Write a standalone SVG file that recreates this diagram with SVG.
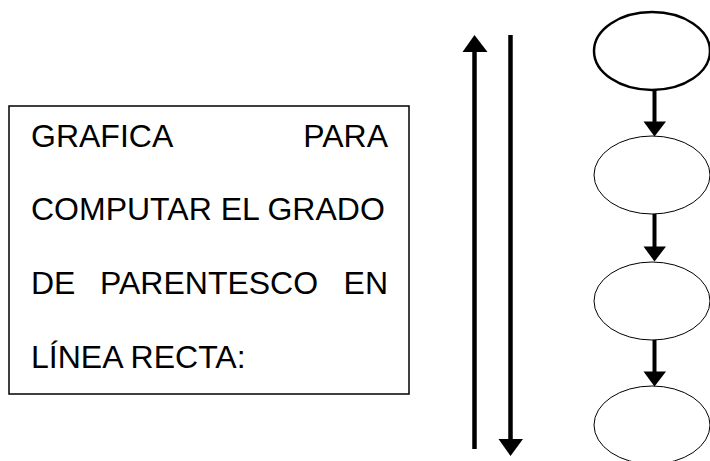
<svg xmlns="http://www.w3.org/2000/svg" width="710" height="461" viewBox="0 0 710 461">
<style>
.t{font-family:"Liberation Sans",Arial,sans-serif;font-size:32px;fill:#000}
.box{fill:#fff;stroke:#000;stroke-width:1.5}
.ell{fill:#fff;stroke:#000;stroke-width:1}
.ell.bold{stroke-width:2.5}
.shaft{stroke:#000;stroke-width:4.5;fill:none}
.sshaft{stroke:#000;stroke-width:4;fill:none}
.head{fill:#000}
</style>
<rect width="710" height="461" fill="#fff"/>
<g id="title">
<rect class="box" x="9" y="106" width="400" height="288"/>
<text class="t" x="31" y="147">GRAFICA</text>
<text class="t" x="388" y="147" text-anchor="end">PARA</text>
<text class="t" x="31" y="220">COMPUTAR EL GRADO</text>
<text class="t" x="31" y="294">DE</text>
<text class="t" x="100" y="294">PARENTESCO</text>
<text class="t" x="388" y="294" text-anchor="end">EN</text>
<text class="t" x="31" y="368">LÍNEA RECTA:</text>
</g>
<g id="node1"><ellipse class="ell bold" cx="652" cy="51" rx="58" ry="39"/></g>
<g id="node2"><ellipse class="ell" cx="652" cy="175" rx="58" ry="39"/></g>
<g id="node3"><ellipse class="ell" cx="652" cy="301" rx="58" ry="39"/></g>
<g id="node4"><ellipse class="ell" cx="652" cy="425" rx="58" ry="39"/></g>
<g id="connectors">
<line class="shaft" x1="474.5" y1="449" x2="474.5" y2="50"/>
<polygon class="head" points="462.5,52 474.5,35 487.5,52"/>
<line class="shaft" x1="510.5" y1="35" x2="510.5" y2="441"/>
<polygon class="head" points="498.5,439 510.5,456 523,439"/>
<line class="sshaft" x1="654.5" y1="90" x2="654.5" y2="123"/>
<polygon class="head" points="643.5,121.5 654.5,136.5 666,121.5"/>
<line class="sshaft" x1="654.5" y1="214" x2="654.5" y2="248"/>
<polygon class="head" points="643.5,246.5 654.5,261.5 666,246.5"/>
<line class="sshaft" x1="654.5" y1="340" x2="654.5" y2="373"/>
<polygon class="head" points="643.5,371.5 654.5,386.5 666,371.5"/>
</g>
</svg>
